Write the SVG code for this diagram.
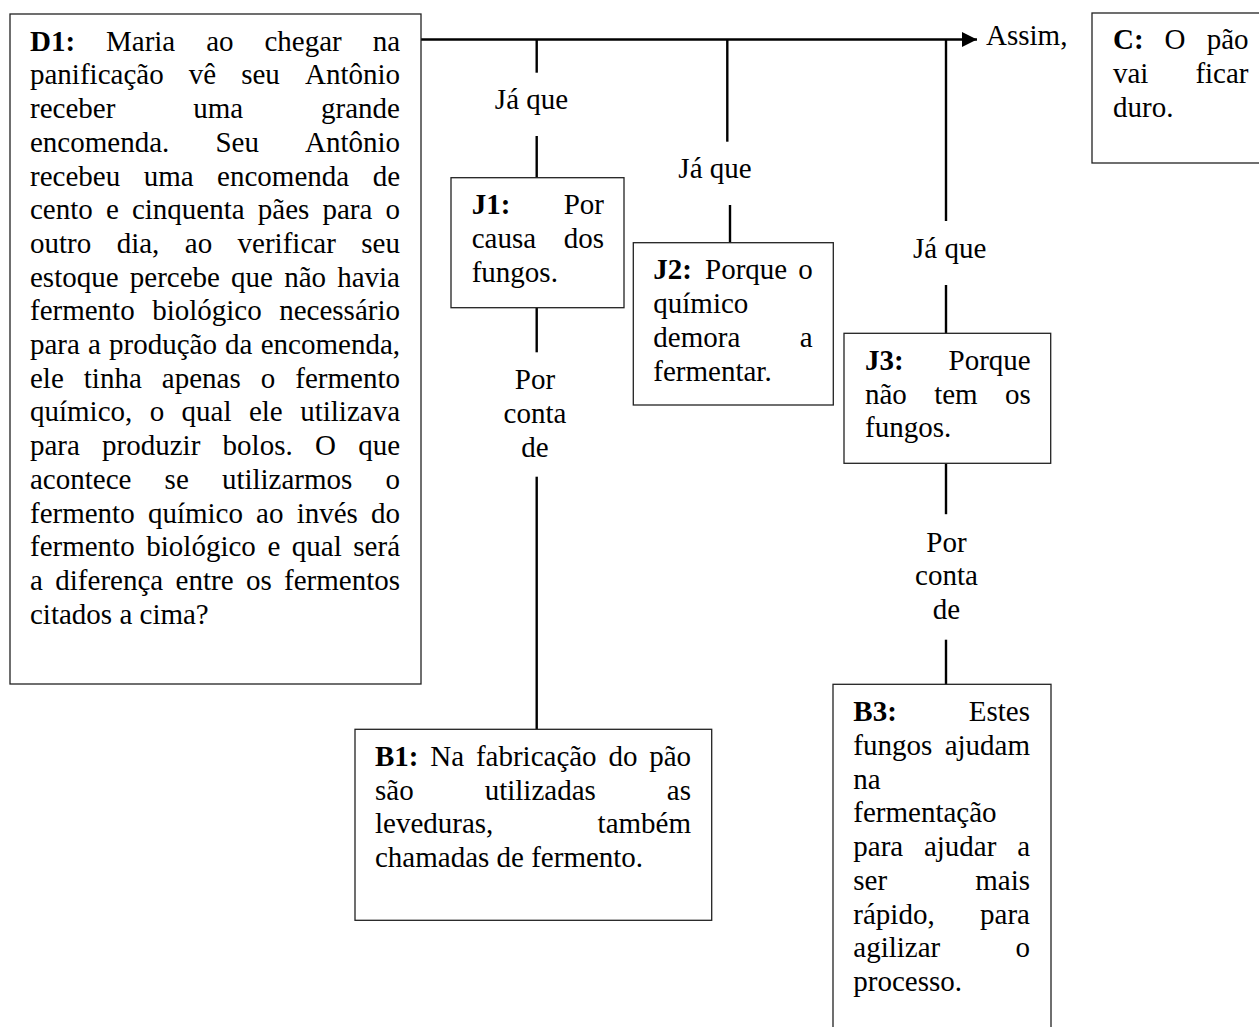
<svg xmlns="http://www.w3.org/2000/svg" width="1259" height="1027" viewBox="0 0 1259 1027" font-family="'Liberation Serif', Tinos, 'Times New Roman', 'DejaVu Serif', serif">
  <style>
    text { font-family: 'Liberation Serif', Tinos, 'Times New Roman', 'DejaVu Serif', serif; font-size: 29px; fill: #000; }
    .b { font-weight: bold; }
    .e { text-anchor: end; }
    .m { text-anchor: middle; }
    .box { fill: #fff; stroke: #222; stroke-width: 1.3; }
    .ln { stroke: #000; stroke-width: 2.4; fill: none; }
  </style>
  <defs>
    <marker id="arrow" markerUnits="userSpaceOnUse" markerWidth="16" markerHeight="16" refX="15" refY="8" orient="auto">
      <path d="M0,0.5 L15,8 L0,15.5 Z" fill="#000"/>
    </marker>
  </defs>

  <rect width="1259" height="1027" fill="#fff"/>

  <!-- connectors -->
  <g id="connectors">
    <line class="ln" x1="421" y1="39.5" x2="977" y2="39.5" marker-end="url(#arrow)"/>
    <!-- J1 / B1 branch -->
    <line class="ln" x1="536.7" y1="40" x2="536.7" y2="72.7"/>
    <line class="ln" x1="536.7" y1="136" x2="536.7" y2="177.7"/>
    <line class="ln" x1="536.7" y1="307.7" x2="536.7" y2="352.3"/>
    <line class="ln" x1="536.7" y1="476.7" x2="536.7" y2="729.3"/>
    <!-- J2 branch -->
    <line class="ln" x1="727.3" y1="40" x2="727.3" y2="141.7"/>
    <line class="ln" x1="730" y1="205" x2="730" y2="242.7"/>
    <!-- J3 / B3 branch -->
    <line class="ln" x1="946" y1="40" x2="946" y2="221"/>
    <line class="ln" x1="946" y1="285" x2="946" y2="333.3"/>
    <line class="ln" x1="946" y1="463.3" x2="946" y2="514.2"/>
    <line class="ln" x1="946" y1="639.7" x2="946" y2="684.3"/>
    <!-- connector labels -->
    <text class="m" x="531.5" y="109.3">Já que</text>
    <text class="m" x="715" y="178.3">Já que</text>
    <text class="m" x="949.7" y="258.3">Já que</text>
    <text class="m" x="535" y="389.3">Por</text>
    <text class="m" x="535" y="423">conta</text>
    <text class="m" x="535" y="456.7">de</text>
    <text class="m" x="946.5" y="551.5">Por</text>
    <text class="m" x="946.5" y="585.2">conta</text>
    <text class="m" x="946.5" y="618.9">de</text>
    <text x="986" y="44.5">Assim,</text>
  </g>

  <!-- D1: data -->
  <g id="D1">
    <rect class="box" x="10" y="14" width="411" height="670"/>
    <text class="b" x="30" y="50.7">D1:</text>
    <text x="106" y="50.7">Maria</text>
    <text x="206.2" y="50.7">ao</text>
    <text x="264.4" y="50.7">chegar</text>
    <text class="e" x="400" y="50.7">na</text>

    <text x="30" y="84.4">panificação</text>
    <text x="188.7" y="84.4">vê</text>
    <text x="241.2" y="84.4">seu</text>
    <text class="e" x="400" y="84.4">Antônio</text>

    <text x="30" y="118.1">receber</text>
    <text x="193.2" y="118.1">uma</text>
    <text class="e" x="400" y="118.1">grande</text>

    <text x="30" y="151.8">encomenda.</text>
    <text x="215.4" y="151.8">Seu</text>
    <text class="e" x="400" y="151.8">Antônio</text>

    <text x="30" y="185.5">recebeu</text>
    <text x="143.7" y="185.5">uma</text>
    <text x="217.1" y="185.5">encomenda</text>
    <text class="e" x="400" y="185.5">de</text>

    <text x="30" y="219.2">cento</text>
    <text x="105.9" y="219.2">e</text>
    <text x="131.9" y="219.2">cinquenta</text>
    <text x="257.8" y="219.2">pães</text>
    <text x="322.5" y="219.2">para</text>
    <text class="e" x="400" y="219.2">o</text>

    <text x="30" y="252.9">outro</text>
    <text x="116.7" y="252.9">dia,</text>
    <text x="184.8" y="252.9">ao</text>
    <text x="237.6" y="252.9">verificar</text>
    <text class="e" x="400" y="252.9">seu</text>

    <text x="30" y="286.6">estoque</text>
    <text x="129.8" y="286.6">percebe</text>
    <text x="231.1" y="286.6">que</text>
    <text x="284.2" y="286.6">não</text>
    <text class="e" x="400" y="286.6">havia</text>

    <text x="30" y="320.3">fermento</text>
    <text x="152.2" y="320.3">biológico</text>
    <text class="e" x="400" y="320.3">necessário</text>

    <text x="30" y="354">para</text>
    <text x="88" y="354">a</text>
    <text x="109.1" y="354">produção</text>
    <text x="225.1" y="354">da</text>
    <text class="e" x="400" y="354">encomenda,</text>

    <text x="30" y="387.7">ele</text>
    <text x="83.8" y="387.7">tinha</text>
    <text x="161.8" y="387.7">apenas</text>
    <text x="260.7" y="387.7">o</text>
    <text class="e" x="400" y="387.7">fermento</text>

    <text x="30" y="421.4">químico,</text>
    <text x="149.7" y="421.4">o</text>
    <text x="181.6" y="421.4">qual</text>
    <text x="248.9" y="421.4">ele</text>
    <text class="e" x="400" y="421.4">utilizava</text>

    <text x="30" y="455.1">para</text>
    <text x="102.1" y="455.1">produzir</text>
    <text x="222.6" y="455.1">bolos.</text>
    <text x="314.9" y="455.1">O</text>
    <text class="e" x="400" y="455.1">que</text>

    <text x="30" y="488.8">acontece</text>
    <text x="164.6" y="488.8">se</text>
    <text x="221.9" y="488.8">utilizarmos</text>
    <text class="e" x="400" y="488.8">o</text>

    <text x="30" y="522.5">fermento</text>
    <text x="147.9" y="522.5">químico</text>
    <text x="256.1" y="522.5">ao</text>
    <text x="296.7" y="522.5">invés</text>
    <text class="e" x="400" y="522.5">do</text>

    <text x="30" y="556.2">fermento</text>
    <text x="146.3" y="556.2">biológico</text>
    <text x="267.4" y="556.2">e</text>
    <text x="291.8" y="556.2">qual</text>
    <text class="e" x="400" y="556.2">será</text>

    <text x="30" y="589.9">a</text>
    <text x="55.3" y="589.9">diferença</text>
    <text x="175.6" y="589.9">entre</text>
    <text x="246" y="589.9">os</text>
    <text class="e" x="400" y="589.9">fermentos</text>

    <text x="30" y="623.6">citados a cima?</text>
  </g>

  <!-- J1 -->
  <g id="J1">
    <rect class="box" x="451" y="177.7" width="173" height="130"/>
    <text class="b" x="471.7" y="214.4">J1:</text>
    <text class="e" x="604" y="214.4">Por</text>
    <text x="471.7" y="248.1">causa</text>
    <text class="e" x="604" y="248.1">dos</text>
    <text x="471.7" y="281.8">fungos.</text>
  </g>

  <!-- J2 -->
  <g id="J2">
    <rect class="box" x="633.3" y="242.7" width="200" height="162.3"/>
    <text class="b" x="653.3" y="279.4">J2:</text>
    <text x="705" y="279.4">Porque</text>
    <text class="e" x="812.7" y="279.4">o</text>
    <text x="653.3" y="313.1">químico</text>
    <text x="653.3" y="346.8">demora</text>
    <text class="e" x="812.7" y="346.8">a</text>
    <text x="653.3" y="380.5">fermentar.</text>
  </g>

  <!-- J3 -->
  <g id="J3">
    <rect class="box" x="844" y="333.3" width="206.7" height="130"/>
    <text class="b" x="865" y="370">J3:</text>
    <text class="e" x="1030.7" y="370">Porque</text>
    <text x="865" y="403.7">não</text>
    <text x="934.2" y="403.7">tem</text>
    <text class="e" x="1030.7" y="403.7">os</text>
    <text x="865" y="437.4">fungos.</text>
  </g>

  <!-- C: conclusion -->
  <g id="C">
    <rect class="box" x="1092" y="13" width="200" height="150"/>
    <text class="b" x="1113" y="49.4">C:</text>
    <text x="1164.6" y="49.4">O</text>
    <text class="e" x="1248.5" y="49.4">pão</text>
    <text x="1113" y="83.1">vai</text>
    <text class="e" x="1248.5" y="83.1">ficar</text>
    <text x="1113" y="116.8">duro.</text>
  </g>

  <!-- B1 -->
  <g id="B1">
    <rect class="box" x="355" y="729.3" width="356.7" height="191"/>
    <text class="b" x="375" y="765.8">B1:</text>
    <text x="430.3" y="765.8">Na</text>
    <text x="475.9" y="765.8">fabricação</text>
    <text x="608.4" y="765.8">do</text>
    <text class="e" x="691" y="765.8">pão</text>
    <text x="375" y="799.5">são</text>
    <text x="484.7" y="799.5">utilizadas</text>
    <text class="e" x="691" y="799.5">as</text>
    <text x="375" y="833.2">leveduras,</text>
    <text class="e" x="691" y="833.2">também</text>
    <text x="375" y="866.9">chamadas de fermento.</text>
  </g>

  <!-- B3 -->
  <g id="B3">
    <rect class="box" x="833" y="684.3" width="218" height="380"/>
    <text class="b" x="853.3" y="721.3">B3:</text>
    <text class="e" x="1030" y="721.3">Estes</text>
    <text x="853.3" y="755">fungos</text>
    <text class="e" x="1030" y="755">ajudam</text>
    <text x="853.3" y="788.7">na</text>
    <text x="853.3" y="822.4">fermentação</text>
    <text x="853.3" y="856.1">para</text>
    <text x="923.9" y="856.1">ajudar</text>
    <text class="e" x="1030" y="856.1">a</text>
    <text x="853.3" y="889.8">ser</text>
    <text class="e" x="1030" y="889.8">mais</text>
    <text x="853.3" y="923.5">rápido,</text>
    <text class="e" x="1030" y="923.5">para</text>
    <text x="853.3" y="957.2">agilizar</text>
    <text class="e" x="1030" y="957.2">o</text>
    <text x="853.3" y="990.9">processo.</text>
  </g>
</svg>
